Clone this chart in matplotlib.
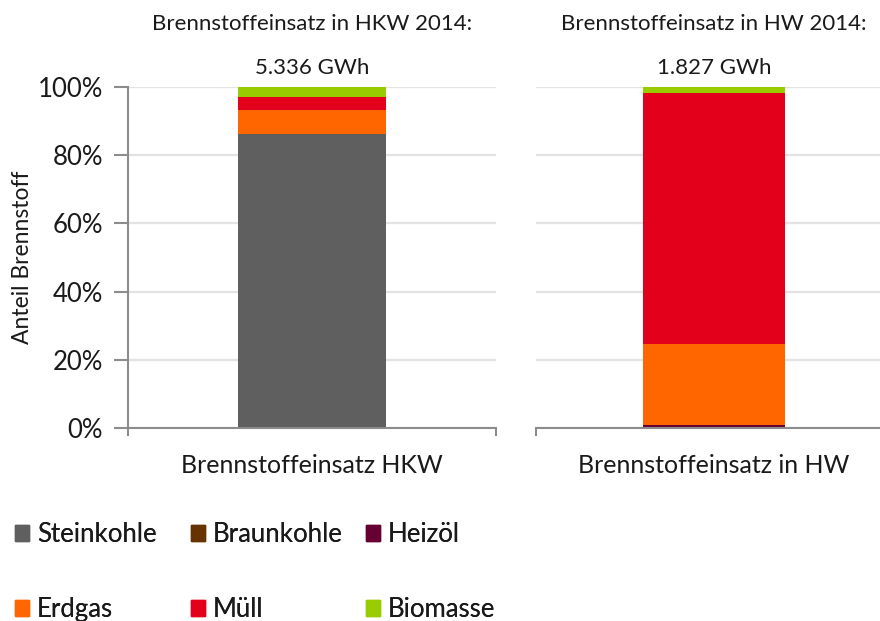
import matplotlib
matplotlib.use("Agg")
import matplotlib.pyplot as plt
from matplotlib.ticker import FuncFormatter
from matplotlib.patches import Patch

plt.rcParams['font.family'] = ['Lato', 'DejaVu Sans']

# data (share of fuel in %)
fuels = ['Steinkohle', 'Braunkohle', 'Heizöl', 'Erdgas', 'Müll', 'Biomasse']
colors = ['#5f5f5f', '#663300', '#660033', '#ff6600', '#e2001a', '#99cc00']
hkw = [86.2, 0.0, 0.0, 7.0, 4.0, 2.8]
hw = [0.0, 0.0, 0.9, 23.8, 73.5, 1.8]
titles = ['Brennstoffeinsatz in HKW 2014:', 'Brennstoffeinsatz in HW 2014:']
totals = ['5.336 GWh', '1.827 GWh']
xlabels = ['Brennstoffeinsatz HKW', 'Brennstoffeinsatz in HW']

txt = '#1a1a1a'
axc = '#8c8c8c'
fs = 18.5

fig = plt.figure(figsize=(8.8, 6.21), dpi=100)
ax1 = fig.add_axes([0.1455, 0.3108, 0.418, 0.549])
ax2 = fig.add_axes([0.609, 0.3108, 0.4045, 0.549])

for ax, vals, title, tot, xl in [(ax1, hkw, titles[0], totals[0], xlabels[0]),
                                 (ax2, hw, titles[1], totals[1], xlabels[1])]:
    bottom = 0
    for v, c in zip(vals, colors):
        ax.bar(0, v, width=0.4, bottom=bottom, color=c, zorder=2)
        bottom += v
    ax.set_xlim(-0.5, 0.5)
    ax.set_ylim(0, 100)
    ax.set_yticks([0, 20, 40, 60, 80, 100])
    ax.yaxis.grid(True, color='#e3e3e3', lw=1.6)
    ax.set_axisbelow(True)
    ax.set_xticks([0])
    ax.set_xticklabels([xl], fontsize=18, color=txt)
    ax.set_xticks([-0.5, 0.5], minor=True)
    ax.tick_params(axis='x', which='major', length=0, pad=19)
    ax.tick_params(axis='x', which='minor', length=6, color=axc, width=1.5)
    for s in ['top', 'right']:
        ax.spines[s].set_visible(False)
    ax.spines['bottom'].set_color(axc)
    ax.spines['bottom'].set_linewidth(1.5)
    ax.text(0.5, 1.185, title, transform=ax.transAxes, ha='center',
            va='center', fontsize=16, color=txt)
    ax.text(0.5, 1.056, tot, transform=ax.transAxes, ha='center',
            va='center', fontsize=16, color=txt)

ax1.yaxis.set_major_formatter(FuncFormatter(lambda v, p: '%d%%' % v))
ax1.tick_params(axis='y', length=10, color=axc, width=1.5, labelsize=fs,
                labelcolor=txt, pad=8)
ax1.spines['left'].set_color(axc)
ax1.spines['left'].set_linewidth(1.5)
ax1.set_ylabel('Anteil Brennstoff', fontsize=16.5, color=txt)
ax1.yaxis.set_label_coords(-0.258, 0.5)

ax2.spines['left'].set_visible(False)
ax2.tick_params(axis='y', length=0, labelleft=False)

# legend: one legend per column (two rows each)
col_x = [15, 191, 366]
for k in range(3):
    idx = [k, k + 3]
    leg = fig.legend([Patch(color=colors[i]) for i in idx],
                     [fuels[i] for i in idx],
                     loc='center left', bbox_to_anchor=(col_x[k] / 880, 0.079),
                     frameon=False, fontsize=fs, borderpad=0, borderaxespad=0,
                     handlelength=0.55, handleheight=0.55, handletextpad=0.3,
                     labelspacing=1.95, labelcolor=txt)
    fig.add_artist(leg)

fig.savefig('out.png', dpi=100)
